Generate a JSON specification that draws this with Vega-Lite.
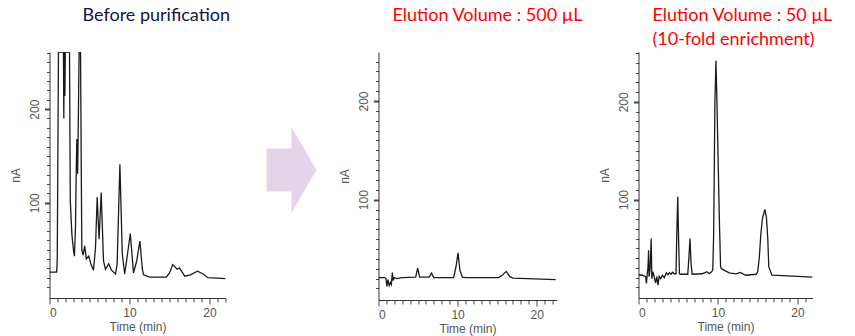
{
  "$schema": "https://vega.github.io/schema/vega-lite/v6.json",
  "padding": {"left": 9.5, "top": 7, "right": 5, "bottom": 2},
  "background": "white",
  "spacing": 0,
  "bounds": "flush",
  "datasets": {
    "p1": [
      {"t":0,"v":26},{"t":0.9,"v":26},{"t":0.97,"v":40},{"t":1.12,"v":261},{"t":1.74,"v":261},{"t":1.79,"v":190},{"t":1.84,"v":261},{"t":1.92,"v":214},{"t":1.98,"v":261},{"t":2.5,"v":261},{"t":2.6,"v":102},{"t":2.8,"v":66},{"t":3.0,"v":49},{"t":3.12,"v":43},{"t":3.25,"v":75},{"t":3.35,"v":138},{"t":3.42,"v":168},{"t":3.52,"v":131},{"t":3.62,"v":200},{"t":3.7,"v":261},{"t":3.88,"v":261},{"t":3.96,"v":150},{"t":4.04,"v":50},{"t":4.2,"v":44},{"t":4.4,"v":54},{"t":4.6,"v":40},{"t":4.9,"v":43},{"t":5.2,"v":34},{"t":5.5,"v":28},{"t":5.75,"v":52},{"t":5.96,"v":106},{"t":6.2,"v":61},{"t":6.46,"v":111},{"t":6.75,"v":38},{"t":7.0,"v":29},{"t":7.4,"v":35},{"t":7.75,"v":28},{"t":8.25,"v":24},{"t":8.45,"v":34},{"t":8.8,"v":141},{"t":9.1,"v":45},{"t":9.4,"v":24},{"t":9.75,"v":45},{"t":10.1,"v":67},{"t":10.5,"v":25},{"t":10.9,"v":38},{"t":11.3,"v":59},{"t":11.6,"v":30},{"t":11.75,"v":23},{"t":12.5,"v":20.5},{"t":14.6,"v":20.5},{"t":15.0,"v":25},{"t":15.4,"v":34},{"t":15.96,"v":29},{"t":16.25,"v":30.5},{"t":16.9,"v":21.6},{"t":17.6,"v":23},{"t":18.5,"v":27},{"t":19.2,"v":24},{"t":19.8,"v":20},{"t":22,"v":19}
    ],
    "p2": [
      {"t":0,"v":21},{"t":0.8,"v":21},{"t":0.95,"v":20},{"t":1.05,"v":12},{"t":1.2,"v":19},{"t":1.35,"v":13},{"t":1.5,"v":16},{"t":1.62,"v":14},{"t":1.75,"v":26},{"t":1.85,"v":18},{"t":2.0,"v":21},{"t":2.3,"v":20},{"t":3.0,"v":21},{"t":4.7,"v":21.5},{"t":4.95,"v":30.5},{"t":5.2,"v":21.5},{"t":6.4,"v":21.5},{"t":6.7,"v":25.5},{"t":7.0,"v":21},{"t":9.5,"v":21},{"t":9.8,"v":32},{"t":10.05,"v":46},{"t":10.3,"v":28},{"t":10.6,"v":21.5},{"t":11,"v":21},{"t":15.2,"v":21},{"t":15.7,"v":24},{"t":16.15,"v":27.3},{"t":16.6,"v":22},{"t":17,"v":20.5},{"t":22.4,"v":19}
    ],
    "p3": [
      {"t":0,"v":23},{"t":0.5,"v":22.5},{"t":0.9,"v":21},{"t":1.0,"v":14},{"t":1.1,"v":23.5},{"t":1.2,"v":31},{"t":1.27,"v":48},{"t":1.33,"v":21},{"t":1.45,"v":28},{"t":1.6,"v":60},{"t":1.68,"v":19},{"t":1.8,"v":26},{"t":1.9,"v":23.5},{"t":2.05,"v":18},{"t":2.15,"v":14.7},{"t":2.3,"v":21},{"t":2.45,"v":12.3},{"t":2.6,"v":21.5},{"t":2.8,"v":19},{"t":3.0,"v":22.5},{"t":3.25,"v":20},{"t":3.5,"v":25},{"t":3.7,"v":23},{"t":3.9,"v":25},{"t":4.1,"v":23.5},{"t":4.3,"v":25.6},{"t":4.5,"v":24},{"t":4.72,"v":24},{"t":4.82,"v":65},{"t":4.94,"v":102.7},{"t":5.05,"v":58},{"t":5.15,"v":24},{"t":5.3,"v":23.5},{"t":6.2,"v":23.5},{"t":6.35,"v":41},{"t":6.48,"v":60},{"t":6.62,"v":34},{"t":6.75,"v":23.5},{"t":8.0,"v":24},{"t":8.6,"v":26},{"t":8.9,"v":24},{"t":9.2,"v":26},{"t":9.35,"v":28},{"t":9.46,"v":65},{"t":9.62,"v":201},{"t":9.75,"v":242},{"t":9.87,"v":201},{"t":10.04,"v":133},{"t":10.17,"v":82},{"t":10.33,"v":31},{"t":10.5,"v":29},{"t":11.4,"v":25},{"t":12.3,"v":24},{"t":12.8,"v":25.3},{"t":13.5,"v":22.5},{"t":14.8,"v":23.5},{"t":15.0,"v":26},{"t":15.2,"v":40},{"t":15.4,"v":65},{"t":15.6,"v":80.5},{"t":15.9,"v":89.8},{"t":16.1,"v":82},{"t":16.27,"v":60},{"t":16.4,"v":31},{"t":16.8,"v":22.5},{"t":19.4,"v":21.5},{"t":21.9,"v":20.5}
    ],
    "arrow": [{"x": 66, "y": 128}],
    "blank": [{"s":""}]
  },
  "hconcat": [
    {
      "width": 176, "height": 246,
      "title": {"text": "Before purification", "color": "#141440", "dx": 33, "offset": 27},
      "data": {"name": "p1"},
      "mark": {"type": "line", "color": "#1a1a1a", "strokeWidth": 1.3, "clip": true},
      "encoding": {
        "x": {"field": "t", "type": "quantitative", "scale": {"domain": [0, 22], "nice": false},
              "axis": {"title": "Time (min)", "values": [0,1,2,3,4,5,6,7,8,9,10,11,12,13,14,15,16,17,18,19,20,21,22],
                       "labelExpr": "datum.value % 10 === 0 ? datum.label : ''",
                       "tickSize": {"condition": {"test": "datum.value % 10 === 0", "value": 6}, "value": 4},
                       "labelPadding": 3, "titlePadding": 3}},
        "y": {"field": "v", "type": "quantitative", "scale": {"domain": [-1.7, 261], "nice": false, "zero": false},
              "axis": {"title": "nA", "values": [10,20,30,40,50,60,70,80,90,100,110,120,130,140,150,160,170,180,190,200,210,220,230,240,250,260],
                       "labelExpr": "datum.value % 100 === 0 ? datum.label : ''",
                       "labelAngle": -90, "labelAlign": "center", "labelBaseline": "bottom",
                       "tickSize": {"condition": {"test": "datum.value % 100 === 0", "value": 5}, "value": 3},
                       "tickWidth": {"condition": {"test": "datum.value % 100 === 0", "value": 2}, "value": 1},
                       "labelPadding": 3, "titlePadding": 6}}
      }
    },
    {
      "width": 153, "height": 246,
      "data": {"name": "arrow"},
      "mark": {"type": "point", "filled": true, "color": "#e4d4ea", "opacity": 1, "size": 2500,
               "shape": "M -1 -0.86 L 0 -0.86 L 0 -1.72 L 1 0 L 0 1.72 L 0 0.86 L -1 0.86 Z"},
      "encoding": {
        "x": {"field": "x", "type": "quantitative", "scale": {"domain": [0, 153], "nice": false, "zero": false}, "axis": null},
        "y": {"field": "y", "type": "quantitative", "scale": {"domain": [0, 246], "nice": false, "zero": false}, "axis": null}
      }
    },
    {
      "width": 178, "height": 248,
      "title": {"text": "Elution Volume : 500 µL", "color": "#ff0000", "dx": 14, "offset": 27},
      "data": {"name": "p2"},
      "mark": {"type": "line", "color": "#1a1a1a", "strokeWidth": 1.3, "clip": true},
      "encoding": {
        "x": {"field": "t", "type": "quantitative", "scale": {"domain": [0, 22.5], "nice": false},
              "axis": {"title": "Time (min)", "values": [0,1,2,3,4,5,6,7,8,9,10,11,12,13,14,15,16,17,18,19,20,21,22],
                       "labelExpr": "datum.value % 10 === 0 ? datum.label : ''",
                       "tickSize": {"condition": {"test": "datum.value % 10 === 0", "value": 6}, "value": 4},
                       "labelPadding": 3, "titlePadding": 3}},
        "y": {"field": "v", "type": "quantitative", "scale": {"domain": [-1.7, 249.7], "nice": false, "zero": false},
              "axis": {"title": "nA", "values": [10,20,30,40,50,60,70,80,90,100,110,120,130,140,150,160,170,180,190,200,210,220,230,240],
                       "labelExpr": "datum.value % 100 === 0 ? datum.label : ''",
                       "labelAngle": -90, "labelAlign": "center", "labelBaseline": "bottom",
                       "tickSize": {"condition": {"test": "datum.value % 100 === 0", "value": 5}, "value": 3},
                       "tickWidth": {"condition": {"test": "datum.value % 100 === 0", "value": 2}, "value": 1},
                       "labelPadding": 3, "titlePadding": 6}}
      }
    },
    {
      "width": 82, "height": 246,
      "data": {"name": "blank"},
      "mark": {"type": "text"},
      "encoding": {"text": {"field": "s"}}
    },
    {
      "width": 174, "height": 246,
      "title": {"text": ["Elution Volume : 50 µL", "(10-fold enrichment)"], "color": "#ff0000", "dx": 14, "offset": 3, "lineHeight": 24},
      "data": {"name": "p3"},
      "mark": {"type": "line", "color": "#1a1a1a", "strokeWidth": 1.3, "clip": true},
      "encoding": {
        "x": {"field": "t", "type": "quantitative", "scale": {"domain": [0, 21.9], "nice": false},
              "axis": {"title": "Time (min)", "values": [0,1,2,3,4,5,6,7,8,9,10,11,12,13,14,15,16,17,18,19,20,21],
                       "labelExpr": "datum.value % 10 === 0 ? datum.label : ''",
                       "tickSize": {"condition": {"test": "datum.value % 10 === 0", "value": 6}, "value": 4},
                       "labelPadding": 3, "titlePadding": 3}},
        "y": {"field": "v", "type": "quantitative", "scale": {"domain": [-0.8, 251], "nice": false, "zero": false},
              "axis": {"title": "nA", "values": [10,20,30,40,50,60,70,80,90,100,110,120,130,140,150,160,170,180,190,200,210,220,230,240,250],
                       "labelExpr": "datum.value % 100 === 0 ? datum.label : ''",
                       "labelAngle": -90, "labelAlign": "center", "labelBaseline": "bottom",
                       "tickSize": {"condition": {"test": "datum.value % 100 === 0", "value": 5}, "value": 3},
                       "tickWidth": {"condition": {"test": "datum.value % 100 === 0", "value": 2}, "value": 1},
                       "labelPadding": 3, "titlePadding": 6}}
      }
    }
  ],
  "config": {
    "view": {"stroke": null},
    "axis": {"grid": false, "domainColor": "#333", "tickColor": "#444", "labelColor": "#555", "titleColor": "#555",
             "labelFont": "Liberation Sans", "titleFont": "Liberation Sans", "labelFontSize": 12, "titleFontSize": 12, "titleFontWeight": "normal"},
    "title": {"font": "Lato", "fontSize": 18, "fontWeight": "normal", "anchor": "start", "frame": "group", "baseline": "alphabetic"}
  }
}
